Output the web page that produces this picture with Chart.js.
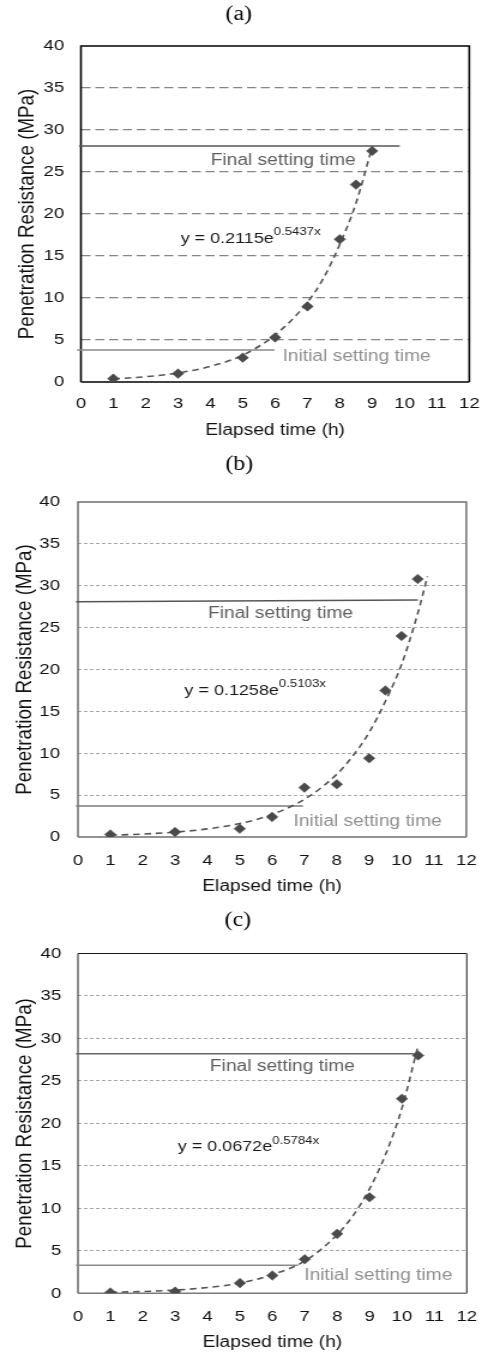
<!DOCTYPE html>
<html>
<head>
<meta charset="utf-8">
<script src="https://cdn.jsdelivr.net/npm/chart.js@4.4.1/dist/chart.umd.min.js"></script>
<style>
    body { margin: 0; background: #fff; }
    /* the source figure is stretched horizontally, so each chart is drawn narrow and scaled */
    .panel { position: absolute; left: 0; width: 412px; height: 450px; transform: scaleX(1.199); transform-origin: 0 0; }
</style>
</head>
<body>
<div class="panel" style="top:0px"><canvas id="chartA" width="412" height="450"></canvas></div>
<div class="panel" style="top:450px"><canvas id="chartB" width="412" height="450"></canvas></div>
<div class="panel" style="top:903px"><canvas id="chartC" width="412" height="450"></canvas></div>
<script>
// Tick values
const xTickValues = [0, 1, 2, 3, 4, 5, 6, 7, 8, 9, 10, 11, 12];
const yTickValues = [0, 5, 10, 15, 20, 25, 30, 35, 40];

// (a) measured points and trend line
const hoursA = [1, 3, 5, 6, 7, 8, 8.5, 9];
const resistA = [0.4, 1.0, 2.9, 5.3, 9.0, 17.0, 23.5, 27.5];
const trendHoursA = [1, 2, 3, 4, 5, 6, 7, 7.5, 8, 8.5, 9];
const trendA = [0.36, 0.63, 1.08, 1.86, 3.2, 5.6, 9.5, 12.4, 16.4, 21.3, 28.0];
const finalHoursA = [-0.06, 9.85];
const finalLevelA = [28.1, 28.1];
const initialHoursA = [-0.12, 5.98];
const initialLevelA = [3.8, 3.8];

// (b)
const hoursB = [1, 3, 5, 6, 7, 8, 9, 9.5, 10, 10.5];
const resistB = [0.3, 0.6, 1.0, 2.4, 5.9, 6.3, 9.4, 17.5, 24.0, 30.8];
const trendHoursB = [1, 2, 3, 4, 5, 6, 7, 8, 8.5, 9, 9.5, 10, 10.5, 10.8];
const trendB = [0.21, 0.35, 0.58, 0.97, 1.6, 2.7, 4.5, 7.5, 9.7, 12.5, 16.2, 20.6, 26.7, 31.1];
const finalHoursB = [-0.06, 10.5];
const finalLevelB = [28.1, 28.3];
const initialHoursB = [-0.06, 6.95];
const initialLevelB = [3.7, 3.7];

// (c)
const hoursC = [1, 3, 5, 6, 7, 8, 9, 10, 10.5];
const resistC = [0.1, 0.2, 1.2, 2.1, 4.0, 7.0, 11.3, 22.9, 28.0];
const trendHoursC = [1, 2, 3, 4, 5, 6, 7, 8, 8.5, 9, 9.5, 10, 10.5];
const trendC = [0.12, 0.21, 0.38, 0.68, 1.2, 2.2, 3.8, 6.9, 9.2, 12.3, 16.4, 21.8, 29.2];
const finalHoursC = [-0.06, 10.5];
const finalLevelC = [28.2, 28.2];
const initialHoursC = [-0.06, 6.8];
const initialLevelC = [3.3, 3.3];

const captions = ["(a)", "(b)", "(c)"];
const equations = ["y = 0.2115e", "y = 0.1258e", "y = 0.0672e"];
const exponents = ["0.5437x", "0.5103x", "0.5784x"];

const FONT = "'Liberation Sans', Arial, sans-serif";

function toPoints(xs, ys) {
    return xs.map((x, i) => ({ x: x, y: ys[i] }));
}

// Per panel layout and styling
const panels = [
    {
        id: "chartA", caption: captions[0], eq: equations[0], exp: exponents[0],
        points: toPoints(hoursA, resistA), trend: toPoints(trendHoursA, trendA),
        final: toPoints(finalHoursA, finalLevelA), initial: toPoints(initialHoursA, initialLevelA),
        titlePad: { top: 3, bottom: 19 }, yWidth: 67.5, padRight: 13.7, xHeight: 58.1, padBottom: 9.9,
        yTickPad: 14, xTickPad: 12, yTitlePad: 11.1,
        grid: { color: "#858585", width: 1.3, dash: [7.5, 4] },
        frame: { side: "#000", sideWidth: 1.6, bottom: "#000", bottomWidth: 1.6 },
        finalColor: "#555", initialColor: "#8a8a8a",
        finalText: [6.25, 26.4], initialText: [8.52, 2.98], eqPos: [3.08, 17.1],
    },
    {
        id: "chartB", caption: captions[1], eq: equations[1], exp: exponents[1],
        points: toPoints(hoursB, resistB), trend: toPoints(trendHoursB, trendB),
        final: toPoints(finalHoursB, finalLevelB), initial: toPoints(initialHoursB, initialLevelB),
        titlePad: { top: 3, bottom: 25 }, yWidth: 65, padRight: 12.8, xHeight: 59.6, padBottom: 3.4,
        yTickPad: 15, xTickPad: 14.5, yTitlePad: 9.2,
        grid: { color: "#a8a8a8", width: 1, dash: [3, 2] },
        frame: { side: "#6e6e6e", sideWidth: 1.5, bottom: "#6e6e6e", bottomWidth: 1.5 },
        finalColor: "#555", initialColor: "#7a7a7a",
        finalText: [6.26, 26.7], initialText: [8.95, 1.83], eqPos: [3.29, 17.5],
    },
    {
        id: "chartC", caption: captions[2], eq: equations[2], exp: exponents[2],
        points: toPoints(hoursC, resistC), trend: toPoints(trendHoursC, trendC),
        final: toPoints(finalHoursC, finalLevelC), initial: toPoints(initialHoursC, initialLevelC),
        titlePad: { top: 5.7, bottom: 20.8 }, yWidth: 65, padRight: 15.3, xHeight: 59.1, padBottom: 0.6,
        yTickPad: 14, xTickPad: 14.1, yTitlePad: 9.4,
        grid: { color: "#a8a8a8", width: 1, dash: [3, 2] },
        frame: { side: "#1a1a1a", sideWidth: 1, bottom: "#7a7a7a", bottomWidth: 1.6 },
        finalColor: "#666", initialColor: "#8a8a8a",
        finalText: [6.31, 26.7], initialText: [9.27, 2.04], eqPos: [3.08, 17.2],
    },
];

// Draws the plot frame (top/right/left and bottom)
function framePlugin(p) {
    return {
        id: "frame",
        beforeDatasetsDraw(chart) {
            const { ctx, chartArea: a } = chart;
            ctx.save();
            ctx.strokeStyle = p.frame.side;
            ctx.lineWidth = p.frame.sideWidth;
            ctx.beginPath();
            ctx.moveTo(a.left, a.bottom);
            ctx.lineTo(a.left, a.top);
            ctx.lineTo(a.right, a.top);
            ctx.lineTo(a.right, a.bottom);
            ctx.stroke();
            ctx.strokeStyle = p.frame.bottom;
            ctx.lineWidth = p.frame.bottomWidth;
            ctx.beginPath();
            ctx.moveTo(a.left, a.bottom);
            ctx.lineTo(a.right, a.bottom);
            ctx.stroke();
            ctx.restore();
        },
    };
}

// Setting-time labels and the fitted equation
function notesPlugin(p) {
    return {
        id: "notes",
        afterDatasetsDraw(chart) {
            const { ctx, scales: { x, y } } = chart;
            ctx.save();
            ctx.textBaseline = "middle";
            ctx.textAlign = "center";
            ctx.font = "16px " + FONT;
            ctx.fillStyle = "#5e5e5e";
            ctx.fillText("Final setting time", x.getPixelForValue(p.finalText[0]), y.getPixelForValue(p.finalText[1]));
            ctx.fillStyle = "#8f8f8f";
            ctx.fillText("Initial setting time", x.getPixelForValue(p.initialText[0]), y.getPixelForValue(p.initialText[1]));

            const ex = x.getPixelForValue(p.eqPos[0]);
            const ey = y.getPixelForValue(p.eqPos[1]);
            ctx.textAlign = "left";
            ctx.fillStyle = "#1a1a1a";
            ctx.font = "15px " + FONT;
            ctx.fillText(p.eq, ex, ey);
            const w = ctx.measureText(p.eq).width;
            ctx.font = "11px " + FONT;
            ctx.fillText(p.exp, ex + w, ey - 6.5);
            ctx.restore();
        },
    };
}

function buildChart(p) {
    const canvas = document.getElementById(p.id);
    new Chart(canvas, {
        type: "line",
        data: {
            datasets: [
                {
                    data: p.points,
                    showLine: false,
                    pointStyle: "rectRot",
                    pointRadius: 4.8,
                    pointBackgroundColor: "#4a4a4a",
                    pointBorderColor: "#4a4a4a",
                    pointBorderWidth: 0.5,
                },
                {
                    data: p.trend,
                    borderColor: "#555",
                    borderWidth: 1.6,
                    borderDash: [5.5, 4],
                    cubicInterpolationMode: "monotone",
                    pointRadius: 0,
                    clip: false,
                },
                {
                    data: p.final,
                    borderColor: p.finalColor,
                    borderWidth: 1.5,
                    pointRadius: 0,
                    clip: false,
                },
                {
                    data: p.initial,
                    borderColor: p.initialColor,
                    borderWidth: 1.5,
                    pointRadius: 0,
                    clip: false,
                },
            ],
        },
        options: {
            responsive: false,
            animation: false,
            devicePixelRatio: 1,
            layout: { padding: { left: 0, right: p.padRight, top: 0, bottom: p.padBottom } },
            plugins: {
                legend: { display: false },
                tooltip: { enabled: false },
                title: {
                    display: true,
                    text: p.caption,
                    color: "#000",
                    font: { family: "'Liberation Serif', 'Times New Roman', serif", size: 20, weight: "normal", lineHeight: 1.2 },
                    padding: p.titlePad,
                },
            },
            scales: {
                x: {
                    type: "linear",
                    min: 0,
                    max: 12,
                    afterBuildTicks: (axis) => { axis.ticks = xTickValues.map((v) => ({ value: v })); },
                    afterFit: (axis) => { axis.height = p.xHeight; },
                    grid: { display: false, drawTicks: false },
                    border: { display: false },
                    ticks: {
                        padding: p.xTickPad,
                        maxRotation: 0,
                        color: "#111",
                        font: { family: FONT, size: 15.5, lineHeight: 1.2 },
                    },
                    title: {
                        display: true,
                        text: "Elapsed time (h)",
                        color: "#111",
                        padding: { top: 0, bottom: 0 },
                        font: { family: FONT, size: 16, lineHeight: 1.2 },
                    },
                },
                y: {
                    min: 0,
                    max: 40,
                    afterBuildTicks: (axis) => { axis.ticks = yTickValues.map((v) => ({ value: v })); },
                    afterFit: (axis) => { axis.width = p.yWidth; },
                    grid: {
                        drawTicks: false,
                        lineWidth: p.grid.width,
                        color: (ctx) => (ctx.tick && (ctx.tick.value === 0 || ctx.tick.value === 40)) ? "rgba(0,0,0,0)" : p.grid.color,
                    },
                    border: { display: false, dash: p.grid.dash },
                    ticks: {
                        padding: p.yTickPad,
                        color: "#111",
                        font: { family: FONT, size: 15.5, lineHeight: 1.2 },
                    },
                    title: {
                        display: true,
                        text: "Penetration Resistance (MPa)",
                        color: "#111",
                        padding: { top: p.yTitlePad, bottom: 0 },
                        font: { family: FONT, size: 18.8, lineHeight: 1.2 },
                    },
                },
            },
        },
        plugins: [framePlugin(p), notesPlugin(p)],
    });
}

panels.forEach(buildChart);
</script>
</body>
</html>
